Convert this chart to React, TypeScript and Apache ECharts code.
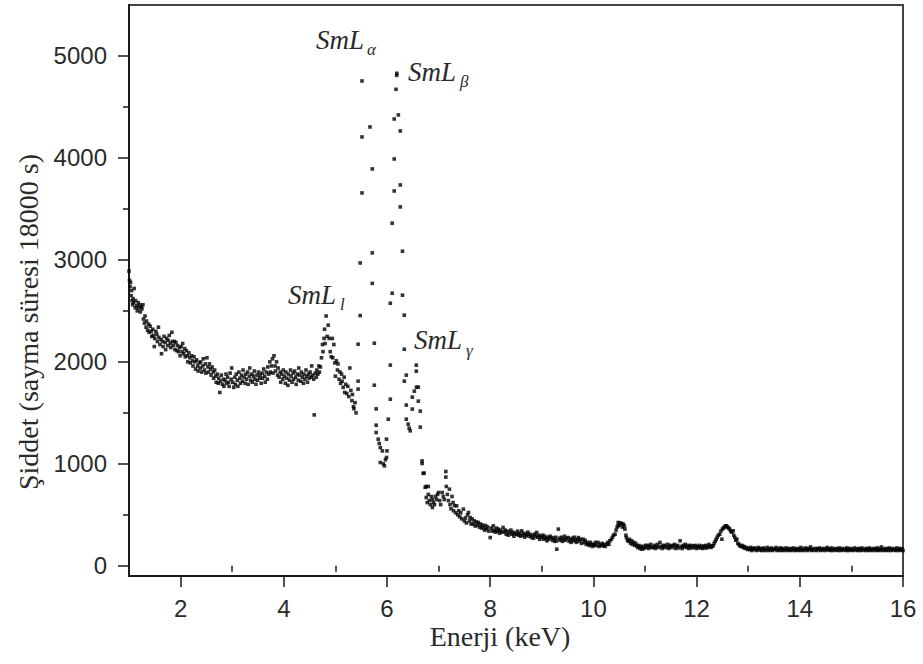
import React, { useEffect, useRef } from "react";
import * as echarts from "echarts";

// ---- tick values ----
const xMajorTicks = [2, 4, 6, 8, 10, 12, 14, 16];
const xMinorTicks = [1, 3, 5, 7, 9, 11, 13, 15];
const yMajorTicks = [0, 1000, 2000, 3000, 4000, 5000];
const yMinorTicks = [500, 1500, 2500, 3500, 4500];

// ---- spectrum points [keV, counts] ----
const seg1: [number, number][] = [
  [1.0, 2890], [1.01, 2800], [1.02, 2740], [1.03, 2780], [1.04, 2650], [1.05, 2700], [1.06, 2600], [1.07, 2560],
  [1.08, 2620], [1.09, 2580], [1.1, 2720], [1.12, 2530], [1.13, 2600], [1.15, 2550], [1.16, 2500], [1.18, 2580],
  [1.19, 2530], [1.21, 2560], [1.22, 2490], [1.24, 2540], [1.25, 2520], [1.27, 2560], [1.28, 2420], [1.3, 2380],
  [1.31, 2450], [1.33, 2340], [1.34, 2400], [1.36, 2310], [1.38, 2370], [1.39, 2290], [1.41, 2350], [1.43, 2300],
  [1.44, 2250], [1.46, 2320], [1.47, 2260], [1.49, 2150], [1.5, 2230], [1.52, 2300], [1.54, 2270], [1.55, 2200],
  [1.57, 2340], [1.58, 2240], [1.6, 2170], [1.62, 2220], [1.63, 2080], [1.65, 2200], [1.66, 2150], [1.68, 2250],
  [1.7, 2190], [1.71, 2120], [1.73, 2230], [1.75, 2160], [1.76, 2210], [1.78, 2260], [1.8, 2180], [1.81, 2140],
  [1.83, 2290], [1.84, 2200], [1.86, 2160], [1.88, 2200], [1.89, 2120], [1.91, 2190], [1.93, 2110], [1.94, 2160],
  [1.96, 2100], [1.98, 2140], [1.99, 2060],
];

const seg2: [number, number][] = [
  [2.01, 2150], [2.03, 2100], [2.04, 2180], [2.06, 2080], [2.08, 2130], [2.09, 2050], [2.11, 2110], [2.13, 2060],
  [2.14, 2000], [2.16, 2090], [2.18, 2040], [2.19, 1990], [2.21, 2060], [2.23, 2010], [2.24, 1960], [2.26, 2050],
  [2.28, 2000], [2.29, 1930], [2.31, 2020], [2.33, 1960], [2.34, 1910], [2.36, 1990], [2.38, 1940], [2.39, 2000],
  [2.41, 1900], [2.43, 1960], [2.44, 2030], [2.46, 1920], [2.48, 1980], [2.49, 1890], [2.51, 2040], [2.53, 1950],
  [2.54, 1900], [2.56, 1980], [2.58, 1930], [2.59, 1870], [2.61, 1950], [2.63, 1900], [2.64, 1840], [2.66, 1920],
  [2.68, 1860], [2.69, 1800], [2.71, 1880], [2.73, 1790], [2.74, 1840], [2.76, 1700], [2.77, 1810], [2.79, 1870],
  [2.81, 1780], [2.83, 1830], [2.84, 1760], [2.86, 1820], [2.88, 1880], [2.89, 1790], [2.91, 1850], [2.93, 1800],
  [2.94, 1760], [2.96, 1890], [2.98, 1830], [2.99, 1940],
];

const seg3: [number, number][] = [
  [3.01, 1800], [3.03, 1750], [3.05, 1850], [3.06, 1780], [3.08, 1880], [3.1, 1820], [3.11, 1760], [3.13, 1900],
  [3.15, 1840], [3.16, 1790], [3.18, 1870], [3.2, 1810], [3.21, 1920], [3.23, 1850], [3.25, 1790], [3.26, 1880],
  [3.28, 1830], [3.3, 1900], [3.31, 1780], [3.33, 1860], [3.34, 1940], [3.36, 1820], [3.38, 1880], [3.39, 1800],
  [3.41, 1860], [3.43, 1910], [3.44, 1830], [3.46, 1780], [3.48, 1870], [3.49, 1820], [3.51, 1900], [3.53, 1840],
  [3.54, 1870], [3.56, 1790], [3.58, 1890], [3.59, 1840], [3.61, 1930], [3.63, 1860], [3.64, 1800], [3.66, 1900],
  [3.68, 1830], [3.69, 1950], [3.71, 1880], [3.73, 2000], [3.74, 1900], [3.76, 1960], [3.78, 2030], [3.79, 1890],
  [3.81, 2060], [3.83, 1960], [3.84, 1910], [3.86, 2000], [3.88, 1870], [3.89, 1940], [3.91, 1850], [3.93, 1900],
  [3.94, 1800], [3.96, 1880], [3.98, 1830], [3.99, 1920], [4.01, 1860], [4.03, 1790], [4.04, 1900], [4.06, 1840],
  [4.08, 1770], [4.09, 1880], [4.11, 1820], [4.13, 1920], [4.14, 1860], [4.16, 1800], [4.18, 1890], [4.19, 1830],
  [4.21, 1910], [4.23, 1850], [4.24, 1780], [4.26, 1880], [4.28, 1820], [4.29, 1940], [4.31, 1870], [4.33, 1810],
  [4.34, 1900], [4.36, 1850], [4.38, 1790], [4.39, 1880], [4.41, 1830], [4.43, 1920], [4.44, 1860], [4.46, 1800],
  [4.48, 1880], [4.49, 1840], [4.51, 1900], [4.53, 1850], [4.54, 1960], [4.56, 1870], [4.58, 1830], [4.59, 1480],
  [4.61, 1890], [4.63, 1850], [4.64, 1920], [4.66, 1880], [4.68, 1960], [4.69, 1900],
];

const smLlPeak: [number, number][] = [
  [4.71, 1950], [4.73, 2040], [4.75, 2170], [4.76, 2100], [4.78, 2230], [4.79, 2320], [4.8, 2180], [4.82, 2450],
  [4.84, 2250], [4.86, 2360], [4.88, 2230], [4.9, 2100], [4.92, 2050], [4.94, 2230], [4.95, 2040], [4.97, 2170],
  [4.99, 1990], [5.0, 1860], [5.02, 2010], [5.04, 1920], [5.05, 1980], [5.07, 1830], [5.09, 1900], [5.1, 1790],
  [5.12, 1880], [5.13, 1810], [5.15, 1750], [5.17, 1850], [5.18, 1700], [5.2, 1780], [5.22, 1690], [5.24, 1760],
  [5.26, 1660], [5.28, 1940], [5.3, 1720], [5.32, 1620], [5.33, 1680], [5.35, 1560], [5.36, 1540], [5.38, 1600],
  [5.4, 1500],
];

const smLabPeaks: [number, number][] = [
  [5.44, 2173], [5.44, 1811], [5.44, 1733], [5.48, 2970], [5.48, 2454], [5.515, 4755], [5.515, 4206], [5.515, 3657],
  [5.67, 4304], [5.715, 3892], [5.715, 3069], [5.715, 2770], [5.754, 2183], [5.754, 1771], [5.79, 1539], [5.79, 1379],
  [5.79, 1307], [5.83, 1242], [5.85, 1200], [5.87, 1160], [5.87, 1013], [5.91, 1127], [5.93, 1000], [5.95, 980],
  [5.97, 1040], [5.99, 1062], [5.99, 1242], [6.0, 1127], [6.025, 1438], [6.064, 1968], [6.064, 1634], [6.064, 2575],
  [6.1, 2673], [6.1, 3360], [6.14, 4382], [6.14, 3990], [6.14, 3676], [6.174, 4673], [6.188, 4810], [6.19, 4830],
  [6.22, 4422], [6.258, 4265], [6.258, 3735], [6.258, 3520], [6.3, 3085], [6.3, 2654], [6.335, 2458], [6.335, 2124],
  [6.335, 1811], [6.374, 1870], [6.374, 1576], [6.374, 1438], [6.41, 1389], [6.43, 1350], [6.45, 1324], [6.49, 1654],
  [6.49, 1537], [6.53, 1713], [6.568, 1968], [6.568, 1909], [6.57, 1752], [6.607, 1752], [6.607, 1615], [6.645, 1517],
  [6.645, 1360],
];

const seg6: [number, number][] = [
  [6.68, 1029], [6.68, 1003], [6.7, 907], [6.72, 909], [6.74, 770], [6.76, 778], [6.76, 670], [6.78, 620],
  [6.8, 778], [6.8, 700], [6.82, 640], [6.84, 600], [6.86, 680], [6.88, 572], [6.88, 650], [6.9, 620],
  [6.92, 600], [6.94, 680], [6.96, 650], [6.98, 700], [7.0, 719], [7.02, 640], [7.04, 600], [7.07, 719],
  [7.09, 680], [7.11, 650], [7.14, 925], [7.14, 870], [7.15, 778], [7.17, 700], [7.19, 640], [7.21, 752],
  [7.22, 600], [7.24, 560], [7.26, 680], [7.28, 620], [7.29, 540], [7.31, 590], [7.33, 520], [7.35, 588],
  [7.37, 500], [7.39, 540], [7.41, 480], [7.43, 520], [7.45, 460], [7.48, 556], [7.5, 440],
];

const seg7: [number, number][] = [
  [7.52, 470], [7.54, 420], [7.56, 500], [7.58, 523], [7.6, 440], [7.61, 474], [7.63, 410], [7.65, 460],
  [7.67, 409], [7.69, 440], [7.71, 390], [7.73, 430], [7.75, 400], [7.77, 425], [7.79, 380], [7.81, 410],
  [7.83, 370], [7.85, 400], [7.87, 376], [7.89, 350], [7.91, 395], [7.93, 360], [7.95, 380], [7.97, 340],
  [8.0, 277], [8.02, 370], [8.04, 340], [8.06, 392], [8.08, 350], [8.1, 330], [8.12, 370], [8.14, 340],
  [8.16, 360], [8.18, 320], [8.2, 350], [8.22, 330], [8.25, 376], [8.27, 330], [8.29, 350], [8.31, 310],
  [8.33, 340], [8.35, 300], [8.38, 327], [8.4, 350], [8.42, 310], [8.44, 330], [8.46, 290], [8.48, 320],
  [8.51, 310], [8.53, 340], [8.55, 300], [8.57, 320], [8.59, 290], [8.61, 343], [8.63, 300], [8.65, 320],
  [8.67, 280], [8.69, 300], [8.71, 310], [8.73, 330], [8.75, 290], [8.77, 310], [8.8, 277], [8.82, 300],
  [8.84, 270], [8.86, 310], [8.88, 290], [8.9, 327], [8.92, 280], [8.94, 300], [8.96, 260], [8.98, 290],
  [9.0, 277], [9.02, 300], [9.04, 260], [9.06, 290], [9.08, 270], [9.1, 245], [9.12, 280], [9.14, 260],
  [9.16, 290], [9.19, 277], [9.21, 250], [9.23, 270], [9.25, 240], [9.27, 280], [9.29, 245], [9.29, 163],
  [9.32, 360], [9.34, 270], [9.36, 250], [9.38, 280], [9.4, 240], [9.42, 261], [9.44, 290], [9.46, 250],
  [9.48, 270], [9.51, 277], [9.53, 240], [9.55, 260], [9.57, 230], [9.59, 270], [9.61, 245], [9.63, 280],
  [9.65, 250], [9.67, 230], [9.69, 260], [9.71, 277], [9.73, 240], [9.75, 260], [9.77, 220], [9.8, 261],
  [9.82, 230], [9.84, 250], [9.86, 210], [9.88, 230], [9.9, 212], [9.92, 200], [9.94, 230], [9.96, 210],
  [9.98, 190], [10.0, 212],
];

const seg8: [number, number][] = [
  [10.02, 200], [10.04, 230], [10.06, 200], [10.09, 229], [10.11, 190], [10.13, 210], [10.15, 200], [10.17, 220],
  [10.19, 196], [10.21, 210], [10.23, 190], [10.26, 212], [10.28, 230], [10.3, 210], [10.32, 245], [10.35, 261],
  [10.37, 280], [10.39, 300], [10.42, 310], [10.44, 350], [10.46, 380], [10.48, 392], [10.48, 425], [10.5, 400],
  [10.52, 420], [10.55, 415], [10.56, 380], [10.58, 409], [10.6, 390], [10.61, 360], [10.63, 300], [10.64, 277],
  [10.66, 250], [10.68, 240], [10.7, 260], [10.72, 220], [10.74, 245], [10.76, 210], [10.78, 230], [10.8, 200],
  [10.82, 220], [10.84, 196], [10.86, 180], [10.88, 200], [10.9, 170], [10.92, 190], [10.94, 163], [10.96, 190],
  [10.98, 170], [11.01, 200], [11.03, 180], [11.05, 200], [11.07, 170], [11.09, 190], [11.11, 210], [11.13, 180],
  [11.16, 180], [11.18, 200], [11.2, 170], [11.22, 190], [11.24, 210], [11.26, 180], [11.29, 229], [11.31, 190],
  [11.33, 170], [11.35, 200], [11.37, 180], [11.39, 200], [11.42, 180], [11.44, 210], [11.46, 170], [11.48, 190],
  [11.5, 200], [11.52, 180], [11.55, 196], [11.57, 210], [11.59, 170], [11.61, 190], [11.63, 200], [11.65, 175],
  [11.68, 245], [11.7, 190], [11.72, 170], [11.74, 200], [11.76, 185], [11.78, 210], [11.81, 180], [11.83, 200],
  [11.85, 170], [11.87, 190], [11.89, 200], [11.91, 175], [11.94, 196], [11.96, 180], [11.98, 200], [12.0, 170],
  [12.02, 190], [12.04, 180], [12.06, 200], [12.08, 175], [12.1, 190], [12.12, 170], [12.14, 195], [12.16, 180],
  [12.18, 200], [12.2, 175], [12.22, 190], [12.24, 210], [12.26, 190], [12.28, 180], [12.3, 196],
];

const seg9: [number, number][] = [
  [12.32, 196], [12.34, 220], [12.36, 240], [12.38, 260], [12.4, 280], [12.42, 300], [12.45, 310], [12.47, 340],
  [12.49, 261], [12.5, 360], [12.52, 370], [12.54, 380], [12.56, 392], [12.58, 392], [12.6, 380], [12.62, 370],
  [12.64, 360], [12.66, 340], [12.68, 330], [12.71, 343], [12.72, 300], [12.74, 280], [12.76, 250], [12.78, 261],
  [12.8, 220], [12.82, 210], [12.84, 196], [12.86, 190], [12.88, 200], [12.9, 180], [12.92, 190], [12.94, 170],
  [12.97, 180], [12.99, 160],
];

const seg10: [number, number][] = [
  [13.01, 170], [13.03, 160], [13.05, 180], [13.07, 150], [13.09, 170], [13.11, 160], [13.13, 175], [13.16, 150],
  [13.18, 165], [13.2, 180], [13.22, 155], [13.24, 170], [13.26, 150], [13.28, 165], [13.3, 175], [13.32, 150],
  [13.35, 160], [13.37, 180], [13.39, 150], [13.41, 165], [13.43, 155], [13.45, 175], [13.47, 150], [13.49, 165],
  [13.51, 160], [13.54, 180], [13.56, 150], [13.58, 165], [13.6, 155], [13.62, 175], [13.64, 150], [13.66, 170],
  [13.68, 160], [13.7, 150], [13.73, 175], [13.75, 160], [13.77, 150], [13.79, 170], [13.81, 155], [13.83, 165],
  [13.85, 150], [13.87, 175], [13.89, 160], [13.92, 150], [13.94, 170], [13.96, 155], [13.98, 165], [14.0, 150],
  [14.02, 180], [14.04, 155], [14.06, 165], [14.08, 150], [14.11, 175], [14.13, 160], [14.15, 150], [14.17, 170],
  [14.19, 160], [14.21, 185], [14.23, 150], [14.25, 165], [14.27, 155], [14.3, 170], [14.32, 150], [14.34, 165],
  [14.36, 160], [14.38, 175], [14.4, 150], [14.42, 165], [14.44, 155], [14.46, 170], [14.49, 150], [14.51, 165],
];

const seg11: [number, number][] = [
  [14.53, 180], [14.55, 155], [14.57, 165], [14.59, 150], [14.61, 175], [14.63, 160], [14.65, 150], [14.68, 170],
  [14.7, 155], [14.72, 165], [14.74, 150], [14.76, 175], [14.78, 160], [14.8, 150], [14.82, 170], [14.84, 155],
  [14.87, 165], [14.89, 150], [14.91, 175], [14.93, 160], [14.95, 150], [14.97, 170], [14.99, 155], [15.01, 165],
  [15.03, 150], [15.06, 175], [15.08, 155], [15.1, 165], [15.12, 150], [15.14, 170], [15.16, 160], [15.18, 150],
  [15.2, 175], [15.22, 155], [15.25, 165], [15.27, 150], [15.29, 170], [15.31, 160], [15.33, 150], [15.35, 175],
  [15.37, 155], [15.39, 165], [15.41, 150], [15.44, 170], [15.46, 160], [15.48, 150], [15.5, 175], [15.52, 155],
  [15.54, 165], [15.56, 150], [15.58, 185], [15.6, 160], [15.63, 150], [15.65, 170], [15.67, 155], [15.69, 165],
  [15.71, 150], [15.73, 175], [15.75, 160], [15.77, 150], [15.79, 170], [15.82, 155], [15.84, 165], [15.86, 150],
  [15.88, 175], [15.9, 160], [15.92, 150], [15.94, 170], [15.96, 155], [15.98, 165], [16.0, 150],
];

const allPoints = [
  ...seg1, ...seg2, ...seg3, ...smLlPeak, ...smLabPeaks, ...seg6, ...seg7, ...seg8, ...seg9, ...seg10, ...seg11,
];

const AXIS = "#1a1a1a";
const TEXT = "#2a2a2a";
const SERIF = "'Liberation Serif', 'DejaVu Serif', serif";
const SANS = "'Liberation Sans', Arial, sans-serif";

function peakLabel(main: string, sub: string, x: number, y: number, sx: number, sy: number) {
  return [
    {
      type: "text",
      x,
      y,
      style: { text: main, font: `italic 27px ${SERIF}`, fill: TEXT, textAlign: "left", textVerticalAlign: "middle" },
    },
    {
      type: "text",
      x: sx,
      y: sy,
      style: { text: sub, font: `italic 17px ${SERIF}`, fill: TEXT, textAlign: "left", textVerticalAlign: "middle" },
    },
  ];
}

export default function App() {
  const ref = useRef<HTMLDivElement>(null);
  useEffect(() => {
    if (!ref.current) return;
    const chart = echarts.init(ref.current, undefined, { renderer: "svg" });
    const commonX = { type: "value", min: 1, max: 16, gridIndex: 0, position: "bottom" };
    const commonY = { type: "value", min: -100, max: 5500, gridIndex: 0, position: "left" };
    chart.setOption({
      animation: false,
      backgroundColor: "#ffffff",
      grid: {
        left: 129,
        right: 20,
        top: 5,
        bottom: 88,
        show: true,
        borderColor: "#444",
        borderWidth: 2,
        backgroundColor: "transparent",
      },
      xAxis: [
        {
          ...commonX,
          axisLine: { show: true, onZero: false, lineStyle: { color: AXIS, width: 2 } },
          axisTick: { show: true, length: 11, customValues: xMajorTicks, lineStyle: { color: AXIS, width: 1.5 } },
          axisLabel: {
            show: true,
            customValues: xMajorTicks,
            margin: 20,
            color: TEXT,
            fontFamily: SANS,
            fontSize: 24,
            formatter: (v: number) => String(v),
          },
          splitLine: { show: false },
        },
        {
          ...commonX,
          axisLine: { show: false },
          axisTick: { show: true, length: 6, customValues: xMinorTicks, lineStyle: { color: AXIS, width: 1.5 } },
          axisLabel: { show: false },
          splitLine: { show: false },
        },
      ],
      yAxis: [
        {
          ...commonY,
          axisLine: { show: true, onZero: false, lineStyle: { color: AXIS, width: 2 } },
          axisTick: { show: true, length: 11, customValues: yMajorTicks, lineStyle: { color: AXIS, width: 1.5 } },
          axisLabel: {
            show: true,
            customValues: yMajorTicks,
            margin: 22,
            color: TEXT,
            fontFamily: SANS,
            fontSize: 24,
            formatter: (v: number) => String(v),
          },
          splitLine: { show: false },
        },
        {
          ...commonY,
          axisLine: { show: false },
          axisTick: { show: true, length: 6, customValues: yMinorTicks, lineStyle: { color: AXIS, width: 1.5 } },
          axisLabel: { show: false },
          splitLine: { show: false },
        },
      ],
      series: [
        {
          type: "scatter",
          xAxisIndex: 0,
          yAxisIndex: 0,
          data: allPoints,
          symbol: "rect",
          symbolSize: 3.6,
          itemStyle: { color: "#000000" },
          silent: true,
        },
      ],
      graphic: [
        {
          type: "text",
          x: 500,
          y: 636,
          style: {
            text: "Enerji (keV)",
            font: `28px ${SERIF}`,
            fill: TEXT,
            textAlign: "center",
            textVerticalAlign: "middle",
          },
        },
        {
          type: "text",
          x: 28,
          y: 322,
          rotation: Math.PI / 2,
          style: {
            text: "Şiddet (sayma süresi 18000 s)",
            font: `28px ${SERIF}`,
            fill: TEXT,
            textAlign: "center",
            textVerticalAlign: "middle",
          },
        },
        ...peakLabel("SmL", "α", 316, 40, 367, 49),
        ...peakLabel("SmL", "β", 408, 72, 460, 81),
        ...peakLabel("SmL", "l", 288, 295, 340, 304),
        ...peakLabel("SmL", "γ", 414, 340, 466, 350),
      ],
    });
    return () => chart.dispose();
  }, []);
  return (
    <div
      ref={ref}
      style={{ position: "fixed", left: 0, top: 0, width: 923, height: 664, background: "#ffffff" }}
    />
  );
}
